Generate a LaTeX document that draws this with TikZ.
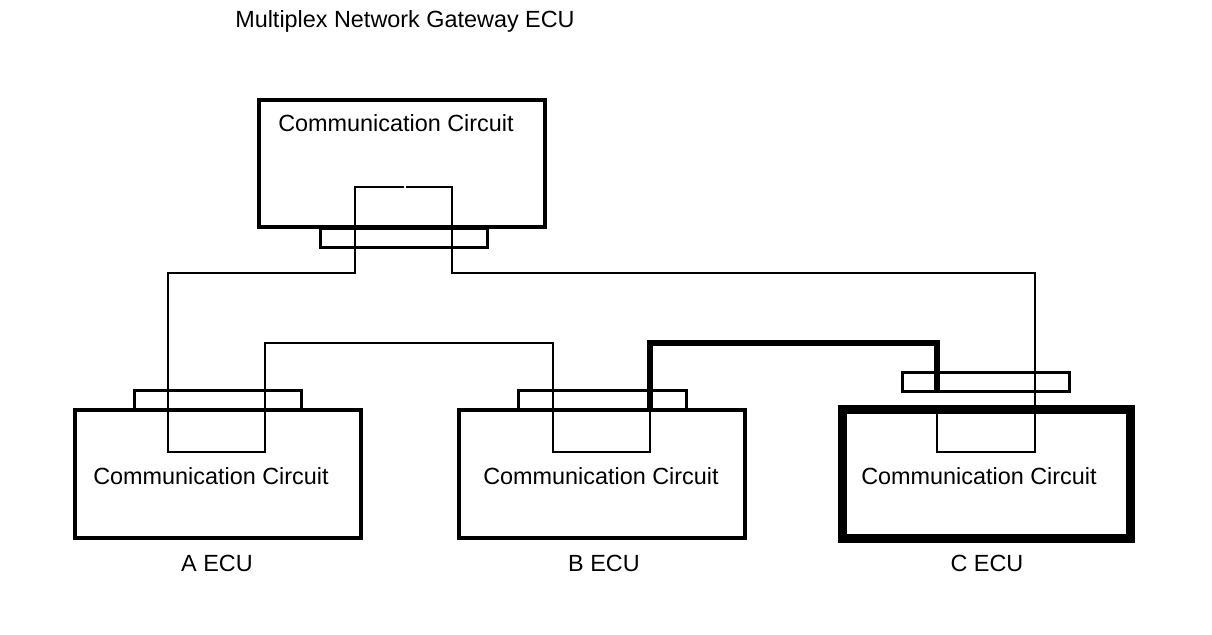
\documentclass[tikz,border=0pt]{standalone}
\usepackage{fontspec}
\setmainfont{Liberation Sans}
\begin{document}
\begin{tikzpicture}[x=0.5pt,y=-0.5pt,
  ecubox/.style={draw,line width=2.2pt,inner sep=0pt,minimum width=143pt,minimum height=64pt},
  connbox/.style={draw,line width=1.5pt,inner sep=0pt,minimum width=83.5pt,minimum height=10pt},
  wire/.style={line width=1pt,line join=miter},
  thickwire/.style={line width=3.2pt,line join=miter},
  lbl/.style={font=\fontsize{11.7pt}{14pt}\selectfont,inner sep=0pt}]
\useasboundingbox (0,0) rectangle (1212,634);
% title
\node[lbl] (title) at (405,21) {Multiplex Network Gateway ECU};
% boxes
\node[ecubox,minimum height=63.5pt] (gw) at (402,163.5) {};
\node[lbl] (gwtext) at (396,123) {Communication Circuit};
\node[connbox,minimum height=9.5pt] (gwc) at (403.5,237.5) {};
\node[ecubox] (a) at (218,474) {};
\node[connbox] (ac) at (217.5,400) {};
\node[ecubox] (b) at (602,474) {};
\node[connbox,minimum width=84pt] (bc) at (602,400) {};
\node[ecubox,line width=4.5pt,minimum width=144pt,minimum height=64.5pt] (c) at (986,473.5) {};
\node[connbox,minimum height=9.5pt] (cc) at (985.5,381.5) {};
\node[lbl] (atext) at (211,476) {Communication Circuit};
\node[lbl] (btext) at (601,476) {Communication Circuit};
\node[lbl] (ctext) at (979,476) {Communication Circuit};
\node[lbl] (alab) at (217,563) {A ECU};
\node[lbl] (blab) at (604,563) {B ECU};
\node[lbl] (clab) at (987,563) {C ECU};
% wire coordinates
\coordinate (gl) at (404,187);
\coordinate (gr) at (406,187);
\coordinate (bt) at (650,410);
\coordinate (ct) at (937,391);
\coordinate (cl) at (937,409);
% wires
\draw[wire] (gl) -- (355,187) -- (355,273) -- (168,273) -- (168,452) -- (265,452)
  -- (265,343) -- (553,343) -- (553,452) -- (650,452) -- (bt);
\draw[thickwire] (bt) -- (650,343) -- (937,343) -- (ct);
\draw[wire] (gr) -- (452,187) -- (452,273) -- (1035,273) -- (1035,452) -- (937,452) -- (cl);
\end{tikzpicture}
\end{document}
